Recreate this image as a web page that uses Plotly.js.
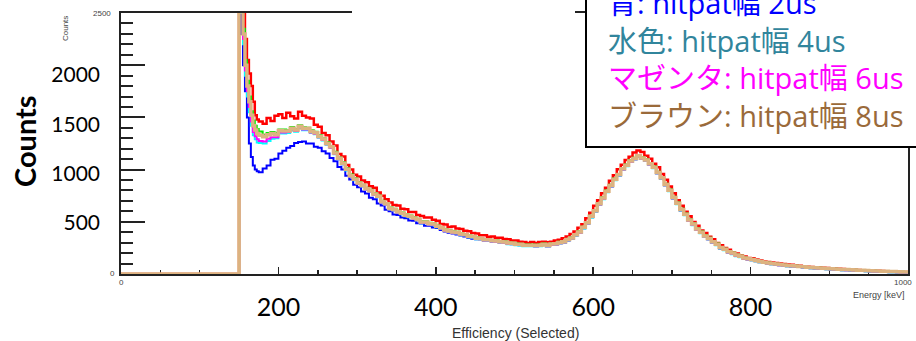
<!DOCTYPE html>
<html>
<head>
<meta charset="utf-8">
<script src="https://cdn.plot.ly/plotly-3.0.1.min.js"></script>
<style>
html,body{margin:0;padding:0;background:#fff;}
#chart{width:916px;height:341px;}
</style>
</head>
<body>
<div id="chart"></div>
<script>
// Bin edges in keV (0 keV edge, 2.5 keV bins 150-175, 5 keV bins 175-1000)
const energyEdges = [0,
150,152.5,155,157.5,160,162.5,165,167.5,170,172.5,
175,180,185,190,195,
200,205,210,215,220,225,230,235,240,245,
250,255,260,265,270,275,280,285,290,295,
300,305,310,315,320,325,330,335,340,345,
350,355,360,365,370,375,380,385,390,395,
400,405,410,415,420,425,430,435,440,445,
450,455,460,465,470,475,480,485,490,495,
500,505,510,515,520,525,530,535,540,545,
550,555,560,565,570,575,580,585,590,595,
600,605,610,615,620,625,630,635,640,645,
650,655,660,665,670,675,680,685,690,695,
700,705,710,715,720,725,730,735,740,745,
750,755,760,765,770,775,780,785,790,795,
800,805,810,815,820,825,830,835,840,845,
850,855,860,865,870,875,880,885,890,895,
900,905,910,915,920,925,930,935,940,945,
950,955,960,965,970,975,980,985,990,995,
1000];

// Counts per bin (first value = 0..150 keV region)
const redCounts = [0,
3600,3000,2550,2250,2050,1920,1800,1650,1520,1480,
1460,1440,1495,1465,1515,
1530,1495,1545,1510,1490,1555,1515,1500,1490,1430,
1410,1350,1330,1270,1230,1150,1125,1045,1000,950,
935,895,880,840,825,780,750,715,685,660,
655,625,620,595,595,565,555,540,540,520,
510,480,475,450,455,435,432,415,410,392,
388,372,370,357,358,347,347,335,332,322,
320,308,307,298,307,296,307,308,304,310,
322,328,342,358,383,407,443,477,533,587,
653,707,773,827,893,947,1003,1047,1093,1122,
1163,1182,1168,1132,1103,1057,1023,957,903,837,
773,707,653,597,553,497,463,417,393,357,
333,297,275,248,232,208,197,178,167,153,
150,140,130,120,115,110,105,100,95,90,
88,85,80,75,70,68,65,62,60,57,
55,52,50,47,45,43,40,38,37,35,
33,31,30,28,27,25,24,22,20,20];

const blueCounts = [0,
3600,2300,2000,1750,1500,1250,1120,1040,1000,985,
975,1010,1040,1095,1105,
1155,1180,1210,1225,1255,1265,1270,1250,1250,1220,
1210,1175,1155,1110,1080,1025,1000,940,905,855,
830,790,770,730,715,675,655,615,600,570,
565,540,535,513,510,487,483,463,462,445,
440,422,408,395,388,378,368,358,348,338,
334,332,320,319,310,309,300,299,288,286,
278,276,268,268,268,266,268,277,266,279,
282,294,300,322,338,369,395,439,482,544,
599,665,719,785,839,900,944,1000,1034,1075,
1099,1125,1104,1085,1049,1015,964,915,849,795,
724,670,609,565,509,470,424,393,357,333,
300,277,245,229,205,192,173,162,145,139,
132,122,113,105,99,93,88,83,79,75,
73,70,66,63,58,56,53,51,48,46,
43,41,39,37,35,33,31,29,28,26,
24,22,21,20,19,17,16,14,13,12];

const greenCounts = [0,
3600,2700,2350,2050,1850,1700,1560,1470,1420,1390,
1365,1335,1350,1360,1352,
1385,1385,1378,1408,1390,1425,1405,1402,1378,1362,
1328,1300,1262,1226,1170,1116,1070,1012,952,916,
882,856,826,806,776,752,702,681,637,626,
605,590,570,560,545,530,505,505,490,485,
464,450,429,420,409,404,389,384,369,364,
349,346,334,333,324,323,314,313,302,300,
292,290,282,282,282,280,282,291,280,293,
296,308,314,336,352,383,409,453,496,558,
614,680,734,800,854,915,959,1015,1049,1090,
1114,1140,1119,1100,1064,1030,979,930,864,810,
739,685,624,580,524,485,439,408,372,347,
314,291,259,243,219,205,186,175,158,152,
142,132,123,115,109,103,97,92,88,84,
82,79,75,72,67,65,62,60,57,55,
52,50,48,46,44,42,40,38,36,34,
32,30,29,28,27,25,24,22,21,20];

const cyanCounts = [0,
3600,2500,2200,1900,1700,1550,1420,1330,1290,1260,
1255,1250,1275,1295,1300,
1345,1345,1350,1375,1362,1395,1378,1378,1350,1338,
1304,1278,1238,1206,1148,1096,1048,992,932,898,
862,838,806,788,756,734,682,663,617,608,
587,573,552,543,527,513,487,488,472,468,
447,433,412,403,392,388,372,368,352,348,
332,330,318,317,308,307,298,297,286,284,
276,274,266,266,266,264,266,275,264,277,
280,292,298,320,336,367,393,437,480,542,
597,663,717,783,837,898,942,998,1032,1073,
1097,1123,1102,1083,1047,1013,962,913,847,793,
722,668,607,563,507,468,422,391,355,331,
298,275,243,227,203,190,171,160,143,137,
132,122,113,105,99,93,88,83,79,75,
73,70,66,63,58,56,53,51,48,46,
43,41,39,37,35,33,31,29,28,26,
24,22,21,20,19,17,16,14,13,12];

const magentaCounts = [0,
3600,2550,2250,1950,1750,1600,1460,1360,1320,1290,
1275,1270,1295,1310,1310,
1355,1355,1360,1383,1370,1403,1385,1385,1355,1343,
1309,1283,1242,1210,1152,1100,1052,996,935,901,
865,841,809,791,759,737,685,666,620,611,
590,576,555,546,530,516,490,491,475,471,
450,436,415,406,395,391,375,371,355,351,
335,333,321,320,311,310,301,300,289,287,
279,277,269,269,269,267,269,278,267,280,
283,295,301,323,339,370,396,440,483,545,
600,666,720,786,840,901,945,1001,1035,1076,
1100,1126,1105,1086,1050,1016,965,916,850,796,
725,671,610,566,510,471,425,394,358,334,
301,278,246,230,206,193,174,163,146,140,
134,124,115,107,101,95,90,85,81,77,
75,72,68,65,60,58,55,53,50,48,
45,43,41,39,37,35,33,31,30,28,
26,24,23,22,21,19,18,16,15,14];

const tanCounts = [0,
3600,2600,2300,2000,1800,1650,1520,1420,1380,1345,
1330,1315,1335,1345,1335,
1375,1370,1370,1395,1380,1415,1395,1395,1365,1352,
1318,1292,1250,1218,1160,1108,1060,1003,942,908,
872,848,816,798,766,744,692,673,627,618,
597,583,562,553,537,523,497,498,482,478,
457,443,422,413,402,398,382,378,362,358,
342,340,328,327,318,317,308,307,296,294,
286,284,276,276,276,274,276,285,274,287,
290,302,308,330,346,377,403,447,490,552,
607,673,727,793,847,908,952,1008,1042,1083,
1107,1133,1112,1093,1057,1023,972,923,857,803,
732,678,617,573,517,478,432,401,365,341,
308,285,253,237,213,200,181,170,153,147,
139,129,120,112,106,100,95,90,86,82,
80,77,73,70,65,63,60,58,55,53,
50,48,46,44,42,40,38,36,35,33,
31,29,28,27,26,24,23,21,20,19];

const xTickVals = [0,200,400,600,800,1000];
const xTickText = ['','200','400','600','800',''];
const yLabelVals = [500,1000,1500,2000];
const yTickVals = [0,500,1000,1500,2000,2500];

const legendLines = [
  {text:'青: hitpat幅 2us', color:'#0000ff'},
  {text:'水色: hitpat幅 4us', color:'#31859c'},
  {text:'マゼンタ: hitpat幅 6us', color:'#ff00ff'},
  {text:'ブラウン: hitpat幅 8us', color:'#9a6a3a'}
];

// --- geometry helpers (pixel -> paper) ---
const L=121, R=908, T=13, B=274;
const px = x => (x-L)/(R-L);
const py = y => (B-y)/(B-T);

function hist(counts, color, width){
  return {
    type:'scatter', mode:'lines',
    x: energyEdges,
    y: counts.concat([counts[counts.length-1]]),
    line:{shape:'hv', color:color, width:width},
    hoverinfo:'skip', showlegend:false
  };
}

const traces = [
  hist(redCounts,'#ff0000',2.5),
  hist(blueCounts,'#0000ff',2),
  hist(greenCounts,'#00ee00',2),
  hist(cyanCounts,'#00ffff',2),
  hist(magentaCounts,'#ff00ff',2),
  hist(tanCounts,'#dcb380',3.5),
  {type:'scatter', x:[], y:[], yaxis:'y2', showlegend:false, hoverinfo:'skip'}
];

const axColor = '#222';
const layout = {
  width:916, height:341,
  margin:{l:L, r:916-R, t:T, b:341-B, pad:0},
  paper_bgcolor:'#fff', plot_bgcolor:'#fff',
  showlegend:false,
  xaxis:{
    range:[0,1000], showgrid:false, zeroline:false,
    showline:true, linecolor:axColor, linewidth:2, mirror:true,
    ticks:'inside', ticklen:7, tickwidth:1.5, tickcolor:axColor,
    tickvals:xTickVals, ticktext:xTickText,
    tickfont:{family:'Lato', size:25, color:'#000'},
    ticklabelstandoff:10,
    minor:{ticks:'inside', ticklen:4, dtick:50, tickwidth:1.5, tickcolor:axColor},
    layer:'below traces'
  },
  yaxis:{
    range:[0,2500], showgrid:false, zeroline:false,
    showline:true, linecolor:axColor, linewidth:2, mirror:true,
    ticks:'inside', ticklen:24, tickwidth:2, tickcolor:axColor,
    tickvals:yTickVals, showticklabels:false,
    minor:{ticks:'inside', ticklen:12, dtick:100, tickwidth:2, tickcolor:axColor},
    layer:'below traces'
  },
  yaxis2:{
    overlaying:'y', side:'left', range:[-16.7,2627.7],
    showgrid:false, zeroline:false, showline:false, ticks:'',
    tickvals:yLabelVals, tickfont:{family:'Lato', size:21, color:'#000'},
    ticklabelstandoff:20
  },
  shapes:[
    // title text box (white) covering the frame top
    {type:'rect', xref:'paper', yref:'paper', x0:px(352), x1:px(575), y0:py(16), y1:py(-5),
     fillcolor:'#fff', line:{width:0}, layer:'above'},
    // legend text box
    {type:'rect', xref:'paper', yref:'paper', x0:px(586), x1:px(930), y0:py(147), y1:py(-10),
     fillcolor:'#fff', line:{color:'#000', width:2}, layer:'above'}
  ],
  annotations:[]
};

const ann = layout.annotations;
// Big axis title
ann.push({xref:'paper', yref:'paper', x:px(24), y:py(141), text:'<b>Counts</b>', textangle:-90,
  showarrow:false, font:{family:'Lato', size:29, color:'#000'}, xanchor:'center', yanchor:'middle'});
// small ROOT texts
const small = {family:'Liberation Sans', size:8, color:'#444'};
ann.push({xref:'paper', yref:'paper', x:px(113), y:py(13), text:'2500', showarrow:false, font:small, xanchor:'right', yanchor:'middle'});
ann.push({xref:'paper', yref:'paper', x:px(66), y:py(29), text:'Counts', textangle:-90, showarrow:false, font:small, xanchor:'center', yanchor:'middle'});
ann.push({xref:'paper', yref:'paper', x:px(112), y:py(273), text:'0', showarrow:false, font:small, xanchor:'center', yanchor:'middle'});
ann.push({xref:'paper', yref:'paper', x:px(121), y:py(282), text:'0', showarrow:false, font:small, xanchor:'center', yanchor:'middle'});
ann.push({xref:'paper', yref:'paper', x:px(914), y:py(282), text:'1000', showarrow:false, font:small, xanchor:'right', yanchor:'middle'});
ann.push({xref:'paper', yref:'paper', x:px(907), y:py(295), text:'Energy [keV]', showarrow:false, font:{family:'Liberation Sans', size:9, color:'#444'}, xanchor:'right', yanchor:'middle'});
ann.push({xref:'paper', yref:'paper', x:px(515), y:py(333), text:'Efficiency (Selected)', showarrow:false, font:{family:'Liberation Sans', size:14, color:'#333'}, xanchor:'center', yanchor:'middle'});
// legend text box: one multi-line text
const legendText = legendLines.map(l => '<span style="color:' + l.color + '">' + l.text + '</span>').join('<br>');
ann.push({xref:'paper', yref:'paper', x:px(606), y:py(59.5), text:legendText, showarrow:false, align:'left',
  font:{family:'Open Sans, Noto Sans CJK JP', size:29, color:'#000'}, xanchor:'left', yanchor:'middle'});

Plotly.newPlot('chart', traces, layout, {staticPlot:true, displayModeBar:false});
</script>
</body>
</html>
